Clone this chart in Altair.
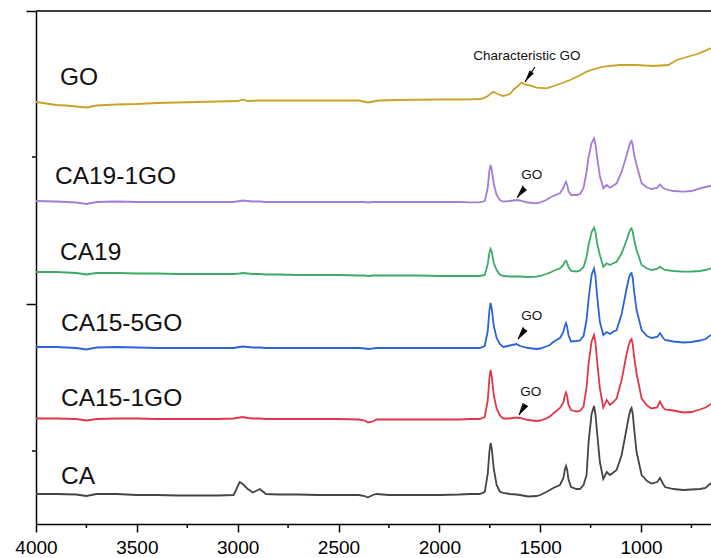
import altair as alt
import pandas as pd

# ---------------- data ----------------
# shared wavenumber grid (cm-1) for the cellulose-acetate spectra
wn = [4000, 3900, 3800, 3750, 3700, 3600, 3500, 3400, 3300, 3200,
      3100, 3020, 2990, 2975, 2950, 2925, 2890, 2860, 2800, 2700,
      2600, 2500, 2400, 2370, 2354, 2330, 2311, 2250, 2100, 2000,
      1900, 1848, 1800, 1775, 1760, 1752, 1746, 1740, 1730, 1716,
      1700, 1683, 1650, 1617, 1600, 1560, 1518, 1500, 1470, 1452,
      1435, 1402, 1385, 1378, 1372, 1366, 1360, 1347, 1320, 1303,
      1285, 1270, 1260, 1245, 1233, 1226, 1218, 1204, 1187, 1170,
      1154, 1140, 1121, 1096, 1071, 1060, 1053, 1047, 1041, 1035,
      1022, 997, 970, 948, 920, 906, 890, 881, 840, 791,
      750, 708, 680, 653]

# intensities (a.u., relative to each trace's own baseline)
ca = [0, 0, -0.5, -2, 0, 0, -1, -1, -1.5, -1.5,
      -1.5, -1, 12, 10, 5, 1.5, 5, 0, -0.5, -0.5,
      -1, -1, -1, -2, -3.5, -1, 0, -1, -1, -1,
      -0.5, 0, 0, 2, 20, 42, 51, 45, 25, 9,
      2.5, 1, 0, -0.5, -1, -2.5, -2, -1, 2, 4,
      6, 9, 16, 24, 28, 24, 15, 7, 5, 5,
      9, 19, 52, 80, 88, 80, 62, 32, 15, 22,
      19, 21, 24, 39, 66, 78, 84, 86, 80, 67,
      42, 19, 13, 10.5, 12, 16, 10, 7, 5, 4,
      4.5, 5, 6, 11]

ca15_1go = [0, 0, -0.5, -2, -0.5, 0, 0, -0.5, -0.5, -0.5,
            -0.5, 0, 1, 1.5, 0.5, 0, 0, -0.5, -0.5, -0.5,
            -0.5, -0.5, -1, -2, -4, -3, -1, -1, -1, -1,
            -1, -0.5, -0.5, 1.5, 18, 40, 48.5, 42, 23, 10,
            3, 0, 0, 1, 0.5, -1.5, -2.5, -2, 0, 2,
            5, 10.5, 16, 23, 26, 22, 14, 8.5, 7, 7.5,
            12, 31, 55, 77, 83.5, 76, 58, 30, 11, 18.5,
            13.5, 16, 20, 38.5, 65, 74, 78, 79.5, 74, 63,
            45, 20, 13, 10, 11, 17, 11, 9, 8, 6,
            6.5, 9, 11, 14.5]

ca15_5go = [0, 0, -1, -2.5, -0.5, 0, -0.5, -1, -1, -1,
            -1, -1, 0, 0.5, 0, -0.5, -0.5, -1, -1, -1,
            -1, -1, -1, -1.5, -2, -1.5, -1, -1, -1, -1,
            -1, -1, -1, 1, 16, 36, 44, 38, 21, 9,
            3, 0, 1.5, 3, 1, -1, -2, -1.5, 0.5, 2,
            5, 9, 15, 21, 24, 20, 12, 5.5, 6, 6.5,
            11, 27, 48, 72, 78.5, 71, 52, 25, 12, 15,
            13, 15, 17, 33, 59, 69, 73, 74, 69, 57,
            37, 17, 11, 9, 10, 14, 9, 7, 5.5, 4.5,
            5, 6.5, 8, 12]

ca19 = [0, 0, -1, -2.5, -1, -1, -1.5, -1.5, -2, -2,
        -2, -2, -1.5, -1, -1.5, -2, -2, -2.5, -2.5, -3,
        -3, -3, -3.5, -3.5, -4, -3.5, -3.5, -3.5, -3.5, -4,
        -4, -4, -4, -3, 8, 19, 23, 20, 9, 2,
        -2.5, -4, -4.5, -4.5, -4.5, -5, -4.7, -4, -2, -0.7,
        1, 3.7, 7, 10, 11.3, 9, 5, 1, 0.5, 1.3,
        5, 15, 27, 40, 44.3, 40, 29, 17, 5.3, 8.7,
        7, 8.5, 10.3, 18.7, 32, 39, 42.5, 43.7, 40, 33,
        22, 7, 3.5, 2, 3, 5.3, 3, 2, 1, 0.3,
        0.5, 1, 2, 3.7]

ca19_1go = [0, -0.5, -1.5, -3, -1, -0.5, -1, -1, -1, -1,
            -1, -1, 0, 0.5, 0, -0.5, -0.5, -1, -1, -1,
            -1, -1, -1, -1, -1.5, -1, -1, -1, -1, -1,
            -1, -1.3, -1.3, 0, 13, 30, 36, 31, 17, 6,
            1, -0.7, 0, 1, 0.5, -1.5, -2.3, -1.5, 1, 3.3,
            5, 7.7, 13, 17, 19.3, 16, 10, 6, 6, 6.7,
            13, 29, 44, 58, 62.7, 57, 44, 25, 12.7, 16,
            13.3, 15, 17.7, 29.3, 46, 54, 58.5, 60, 56, 47,
            36, 17.7, 13.5, 12, 13, 16.7, 13, 12, 10, 9.3,
            10, 12.7, 14, 15.3]

# graphene oxide spectrum has its own grid
wn_go = [4000, 3950, 3900, 3850, 3800, 3750, 3700, 3650, 3600, 3500,
         3400, 3300, 3200, 3100, 3000, 2975, 2950, 2900, 2800, 2600,
         2400, 2354, 2300, 2200, 2000, 1900, 1848, 1800, 1782, 1760,
         1733, 1710, 1683, 1650, 1634, 1610, 1592, 1575, 1559, 1518,
         1468, 1418, 1352, 1300, 1270, 1230, 1187, 1105, 1022, 940,
         865, 823, 790, 757, 720, 692, 653]
go = [0, -1.5, -3, -3.5, -4.5, -5.5, -3.5, -3, -2.5, -2,
      -1, -0.5, 0, 0.5, 1, 2.5, 1, 1.5, 1.5, 1.5,
      1.5, -0.5, 1.5, 2, 2.5, 2.5, 2.7, 3, 3.7, 6,
      10.3, 8, 6, 8, 12, 16, 19.3, 17.5, 17, 14.3,
      13.7, 17, 22, 27, 30.3, 33, 35.3, 37, 37, 36,
      37, 42, 44, 46, 48, 50.3, 53.7]

series_names = ["GO", "CA19-1GO", "CA19", "CA15-5GO", "CA15-1GO", "CA"]
stack_offsets = [422, 323, 252, 177, 105.5, 30]
series_colors = ["#C9A227", "#A47CD6", "#3DAA6A", "#2B63D9", "#E2364A", "#444444"]

# series labels (text, wavenumber of left edge, label baseline)
label_text = ["GO", "CA19-1GO", "CA19", "CA15-5GO", "CA15-1GO", "CA"]
label_x = [3881, 3906, 3881, 3876, 3876, 3876]
label_y = [439, 340.5, 264, 193, 118, 40]

# annotations: text + arrow (tail -> tip)
ann_text = ["Characteristic GO", "GO", "GO", "GO"]
ann_x = [1566, 1542, 1542, 1547]
ann_y = [464, 345.5, 204.5, 128]
arrow_tail_x = [1526, 1584, 1584, 1584]
arrow_tail_y = [457, 338.3, 196.7, 120.7]
arrow_tip_x = [1576, 1614, 1609, 1604]
arrow_tip_y = [442, 326.3, 184.7, 109]
arrow_angle = [214, 220, 217, 214]

x_major = [4000, 3500, 3000, 2500, 2000, 1500, 1000]
x_minor = [3750, 3250, 2750, 2250, 1750, 1250, 750]
y_major = [220, 513]
y_minor = [73, 367]

# ---------------- build tables ----------------
rows = []
for name, off, xs, ys in zip(series_names, stack_offsets,
                             [wn_go, wn, wn, wn, wn, wn],
                             [go, ca19_1go, ca19, ca15_5go, ca15_1go, ca]):
    for i, (x, y) in enumerate(zip(xs, ys)):
        rows.append({"series": name, "wavenumber": x, "signal": y + off, "i": i})
spec = pd.DataFrame(rows)

labels = pd.DataFrame({"text": label_text, "x": label_x, "y": label_y})
ann = pd.DataFrame({"text": ann_text, "x": ann_x, "y": ann_y})
arrows = pd.DataFrame({"tx": arrow_tail_x, "ty": arrow_tail_y,
                       "hx": arrow_tip_x, "hy": arrow_tip_y, "angle": arrow_angle})

W, H = 675, 513
FONT = "Liberation Sans"

xscale = alt.Scale(domain=[653, 4000], reverse=True, nice=False, zero=False)
yscale = alt.Scale(domain=[0, 513], nice=False, zero=False)
xaxis = alt.Axis(values=x_major, title=None, grid=False, tickSize=8, tickWidth=1.5,
                 domainWidth=1.5, domainColor="black", tickColor="black",
                 labelFont=FONT, labelFontSize=19, labelColor="black",
                 labelPadding=6, labelFlush=False, format="d")
yaxis = alt.Axis(values=y_major, title=None, grid=False, labels=False, tickSize=10,
                 tickWidth=1.5, domainWidth=1.5, domainColor="black", tickColor="black")

lines = alt.Chart(spec).mark_line(strokeWidth=1.8).encode(
    x=alt.X("wavenumber:Q", scale=xscale, axis=xaxis),
    y=alt.Y("signal:Q", scale=yscale, axis=yaxis),
    color=alt.Color("series:N", scale=alt.Scale(domain=series_names, range=series_colors),
                    legend=None),
    order="i:Q",
)

label_layer = alt.Chart(labels).mark_text(
    align="left", baseline="alphabetic", font=FONT, fontSize=24.5, color="#111111"
).encode(
    x=alt.X("x:Q", scale=xscale, axis=xaxis),
    y=alt.Y("y:Q", scale=yscale, axis=yaxis),
    text="text:N",
)

ann_layer = alt.Chart(ann).mark_text(
    align="center", baseline="alphabetic", font=FONT, fontSize=13.5, color="#111111"
).encode(
    x=alt.X("x:Q", scale=xscale, axis=xaxis),
    y=alt.Y("y:Q", scale=yscale, axis=yaxis),
    text="text:N",
)

shaft = alt.Chart(arrows).mark_rule(color="black", strokeWidth=1.2).encode(
    x=alt.X("tx:Q", scale=xscale, axis=xaxis),
    y=alt.Y("ty:Q", scale=yscale, axis=yaxis),
    x2="hx:Q",
    y2="hy:Q",
)

head = alt.Chart(arrows).mark_point(
    shape="M0,0L0.42,2L-0.42,2Z", filled=True, color="black", opacity=1, size=150
).encode(
    x=alt.X("hx:Q", scale=xscale, axis=xaxis),
    y=alt.Y("hy:Q", scale=yscale, axis=yaxis),
    angle=alt.Angle("angle:Q", scale=None),
)

xminor = alt.Chart(pd.DataFrame({"v": x_minor})).mark_rule(color="black", strokeWidth=1.5).encode(
    x=alt.X("v:Q", scale=xscale, axis=xaxis),
    y=alt.value(H),
    y2=alt.value(H + 4),
)

yminor = alt.Chart(pd.DataFrame({"v": y_minor})).mark_rule(color="black", strokeWidth=1.5).encode(
    y=alt.Y("v:Q", scale=yscale, axis=yaxis),
    x=alt.value(-4),
    x2=alt.value(0),
)

top = alt.Chart(pd.DataFrame({"a": [0]})).mark_rule(color="black", strokeWidth=1.5).encode(
    x=alt.value(0),
    x2=alt.value(W),
    y=alt.value(0),
)

chart = alt.layer(lines, label_layer, ann_layer, shaft, head, xminor, yminor, top).properties(
    width=W,
    height=H,
    autosize=alt.AutoSizeParams(type="none"),
    padding={"left": 36, "top": 11, "right": 0, "bottom": 34},
    background="white",
).configure_view(stroke=None)

chart.save("out.html", embed_options={"renderer": "svg", "actions": False})
